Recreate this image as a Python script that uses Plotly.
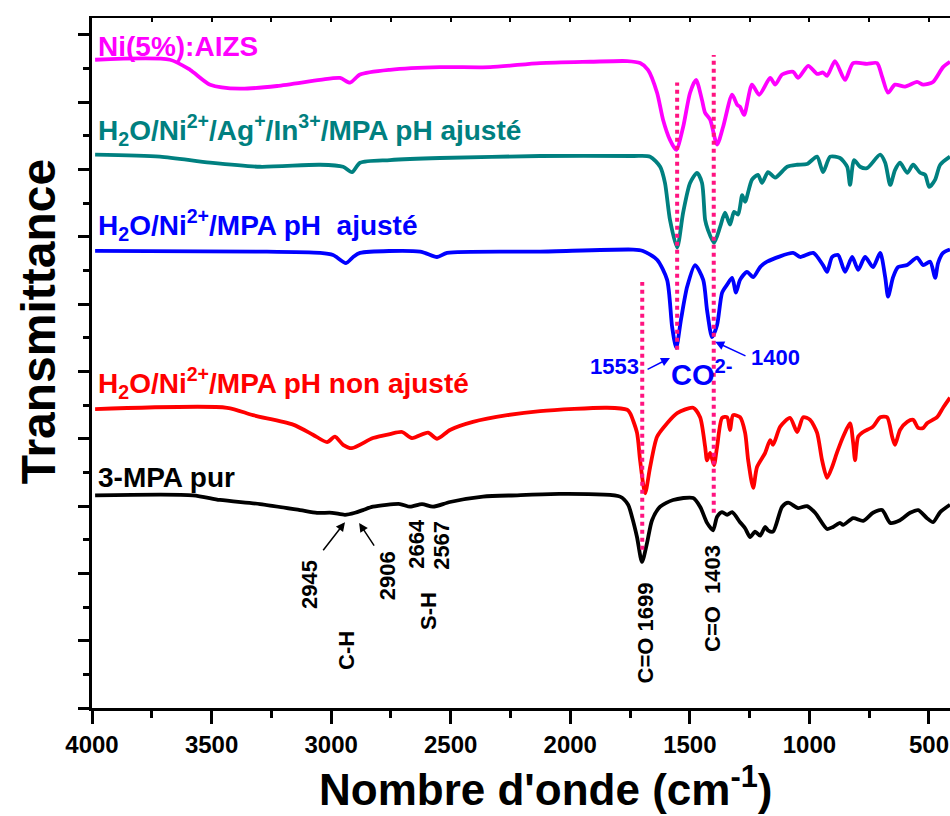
import plotly.graph_objects as go

# wavenumbers (cm-1) and transmittance (a.u., curves offset)
ni_aizs_wn = [3987, 3674, 3590, 3506, 3381, 3226, 3046, 2963, 2921, 2879, 2754, 2545, 2335, 2126,
              1917, 1762, 1708, 1675, 1637, 1612, 1583, 1557, 1528, 1499, 1474, 1449, 1436, 1415,
              1386, 1361, 1323, 1302, 1290, 1273, 1240, 1210, 1164, 1143, 1114, 1068, 1047, 1005,
              968, 943, 926, 893, 851, 817, 759, 717, 696, 671, 642, 600, 550, 524, 483, 441, 412]
ni_aizs_t = [9.63, 9.63, 9.48, 9.26, 9.20, 9.24, 9.33, 9.36, 9.29, 9.41, 9.48, 9.52, 9.52, 9.58,
             9.60, 9.61, 9.58, 9.48, 9.14, 8.74, 8.44, 8.29, 8.63, 9.14, 9.33, 9.03, 8.84, 8.74,
             8.37, 8.63, 9.11, 8.96, 8.93, 8.81, 9.26, 9.11, 9.36, 9.26, 9.41, 9.45, 9.36, 9.54,
             9.42, 9.44, 9.39, 9.61, 9.33, 9.58, 9.57, 9.58, 9.38, 9.14, 9.26, 9.23, 9.30, 9.26,
             9.30, 9.52, 9.60]

agin_wn = [3987, 3716, 3506, 3297, 3046, 2950, 2913, 2879, 2754, 2545, 2126, 1737, 1666, 1624,
           1604, 1583, 1553, 1528, 1499, 1470, 1449, 1436, 1424, 1399, 1373, 1353, 1332, 1315,
           1298, 1281, 1269, 1240, 1215, 1198, 1173, 1143, 1093, 1051, 1010, 968, 943, 913, 872,
           842, 830, 813, 788, 759, 704, 683, 662, 642, 621, 591, 566, 537, 516, 499, 474, 453, 412]
agin_t = [8.22, 8.19, 8.10, 8.04, 8.07, 8.04, 7.96, 8.10, 8.14, 8.17, 8.20, 8.20, 8.19, 8.04,
          7.80, 7.25, 6.84, 7.36, 7.80, 7.95, 7.80, 7.25, 7.10, 6.91, 7.15, 7.36, 7.18, 7.37,
          7.33, 7.62, 7.52, 7.85, 7.92, 7.80, 7.96, 7.88, 8.04, 8.07, 8.08, 8.19, 7.96, 8.19, 8.17,
          8.04, 7.77, 8.14, 8.04, 8.02, 8.22, 8.10, 7.77, 7.99, 8.10, 7.95, 8.07, 7.95, 7.92, 7.74,
          7.85, 8.07, 8.19]

ph_adj_wn = [3987, 3297, 3046, 2992, 2938, 2908, 2879, 2628, 2557, 2515, 2126, 1737, 1696, 1637,
             1595, 1574, 1557, 1537, 1511, 1478, 1444, 1428, 1407, 1386, 1365, 1344, 1323, 1307,
             1290, 1261, 1235, 1206, 1177, 1068, 1039, 984, 943, 926, 905, 880, 851, 821, 796, 767,
             734, 704, 683, 671, 650, 629, 591, 550, 524, 495, 474, 462, 441, 412]
ph_adj_t = [6.79, 6.78, 6.76, 6.73, 6.61, 6.70, 6.76, 6.78, 6.70, 6.76, 6.78, 6.81, 6.79, 6.66,
            6.36, 5.66, 5.35, 5.77, 6.26, 6.58, 6.36, 5.91, 5.51, 5.69, 6.17, 6.29, 6.39, 6.17,
            6.36, 6.48, 6.40, 6.55, 6.63, 6.76, 6.70, 6.76, 6.58, 6.48, 6.70, 6.73, 6.48, 6.70, 6.51,
            6.70, 6.55, 6.76, 6.40, 6.11, 6.40, 6.55, 6.58, 6.69, 6.58, 6.63, 6.39, 6.61, 6.76, 6.81]

ph_nonadj_wn = [3987, 3435, 3327, 3159, 3076, 3017, 2984, 2950, 2913, 2825, 2754, 2703, 2662, 2595,
                2557, 2503, 2407, 2264, 2126, 1846, 1762, 1750, 1721, 1708, 1687, 1666, 1637, 1595,
                1553, 1486, 1457, 1436, 1428, 1415, 1399, 1386, 1365, 1344, 1332, 1319, 1290, 1269,
                1256, 1235, 1219, 1185, 1164, 1152, 1122, 1081, 1051, 1026, 997, 968, 947, 926, 905,
                884, 859, 830, 817, 809, 796, 775, 734, 704, 675, 654, 642, 621, 591, 566, 545, 524,
                508, 466, 441, 412]
ph_nonadj_t = [4.44, 4.46, 4.35, 4.21, 4.06, 3.95, 4.03, 3.91, 3.86, 4.01, 4.07, 4.10, 4.01, 4.09,
               4.00, 4.13, 4.25, 4.35, 4.41, 4.46, 4.43, 4.38, 4.09, 3.68, 3.19, 3.58, 4.03, 4.23,
               4.38, 4.46, 4.32, 3.88, 3.68, 3.79, 3.61, 3.88, 4.31, 4.32, 4.13, 4.35, 4.32, 4.09,
               3.68, 3.27, 3.58, 3.79, 3.98, 3.91, 4.18, 4.31, 4.10, 4.32, 4.28, 4.09, 3.68, 3.42, 3.58,
               3.80, 4.03, 4.23, 3.94, 3.68, 4.03, 4.10, 4.18, 4.32, 4.32, 4.03, 3.91, 4.13, 4.25, 4.28,
               4.16, 4.16, 4.23, 4.32, 4.46, 4.61]

mpa_wn = [3987, 3578, 3465, 3297, 3130, 3059, 2996, 2942, 2900, 2867, 2825, 2712, 2670, 2620, 2574,
          2503, 2365, 2222, 2043, 1792, 1758, 1742, 1721, 1700, 1679, 1658, 1624, 1570, 1486, 1457,
          1428, 1403, 1386, 1365, 1344, 1323, 1290, 1269, 1248, 1227, 1206, 1185, 1173, 1152, 1114,
          1089, 1047, 1010, 976, 926, 901, 872, 859, 817, 775, 734, 696, 662, 621, 579, 545, 508,
          483, 453, 412]
mpa_t = [3.16, 3.16, 3.09, 3.03, 2.94, 2.90, 2.90, 2.87, 2.90, 2.94, 2.99, 3.03, 2.99, 3.03, 2.99,
         3.06, 3.14, 3.16, 3.18, 3.14, 3.02, 2.84, 2.54, 2.17, 2.45, 2.79, 2.99, 3.09, 3.12, 2.99,
         2.75, 2.64, 2.84, 2.91, 2.87, 2.91, 2.76, 2.67, 2.54, 2.62, 2.56, 2.69, 2.64, 2.62, 2.99,
         3.05, 2.97, 3.00, 2.90, 2.66, 2.69, 2.75, 2.72, 2.82, 2.78, 2.90, 2.94, 2.75, 2.79, 2.90,
         2.94, 2.82, 2.76, 2.91, 3.02]

# dotted guide lines: wavenumber, bottom, top
guide_wn = [1553, 1400, 1699]
guide_lo = [5.32, 2.90, 2.35]
guide_hi = [9.29, 9.70, 6.33]

series = [
    (ni_aizs_wn, ni_aizs_t, "#FF00FF"),
    (agin_wn, agin_t, "#008080"),
    (ph_adj_wn, ph_adj_t, "#0000FF"),
    (ph_nonadj_wn, ph_nonadj_t, "#FF0000"),
    (mpa_wn, mpa_t, "#000000"),
]

fig = go.Figure()

for wn, t, col in series:
    fig.add_trace(go.Scatter(x=wn, y=t, mode="lines",
                             line=dict(color=col, width=3.8, shape="spline", smoothing=0.7),
                             showlegend=False))

# guides go on the top axis so that it gets drawn (ticks pointing inward)
for wn, lo, hi in zip(guide_wn, guide_lo, guide_hi):
    fig.add_trace(go.Scatter(x=[wn, wn], y=[lo, hi], mode="lines", xaxis="x2",
                             line=dict(color="#FF1480", width=4, dash="dot"),
                             showlegend=False, hoverinfo="skip"))

bold = dict(family="Liberation Sans, Arial, sans-serif", weight="bold")

# curve labels
labels = [
    ("Ni(5%):AIZS", 9.82, "#FF00FF"),
    ("H<sub>2</sub>O/Ni<sup>2+</sup>/Ag<sup>+</sup>/In<sup>3+</sup>/MPA pH ajusté", 8.59, "#008080"),
    ("H<sub>2</sub>O/Ni<sup>2+</sup>/MPA pH  ajusté", 7.18, "#0000FF"),
    ("H<sub>2</sub>O/Ni<sup>2+</sup>/MPA pH non ajusté", 4.83, "#FF0000"),
    ("3-MPA pur", 3.42, "#000000"),
]
for txt, yv, col in labels:
    fig.add_annotation(x=3983, y=yv, text=txt, showarrow=False, xanchor="left", yanchor="middle",
                       font=dict(size=28, color=col, **bold))

# rotated peak labels
peaks = [
    ("2945", 3088, 1.83), ("2906", 2766, 1.96), ("C-H", 2933, 0.85),
    ("2664", 2641, 2.44), ("2567", 2536, 2.41), ("S-H", 2595, 1.44),
    ("C=O 1699", 1687, 1.11), ("C=O  1403", 1403, 1.62),
]
for txt, xv, yv in peaks:
    fig.add_annotation(x=xv, y=yv, text=txt, showarrow=False, textangle=-90,
                       xanchor="center", yanchor="middle",
                       font=dict(size=22, color="black", **bold))

# arrows (tail -> head)
arrows = [
    (3038, 2.32, 2942, 2.76, "black"),
    (2816, 2.39, 2883, 2.75, "black"),
    (1683, 5.02, 1583, 5.20, "#0000FF"),
    (1261, 5.22, 1394, 5.44, "#0000FF"),
]
for tx, ty, hx, hy, col in arrows:
    fig.add_annotation(x=hx, y=hy, ax=tx, ay=ty, xref="x", yref="y", axref="x", ayref="y",
                       text="", showarrow=True, arrowhead=2, arrowsize=1.2, arrowwidth=1.5,
                       arrowcolor=col)

fig.add_annotation(x=1813, y=5.07, text="1553", showarrow=False,
                   font=dict(size=22, color="#0000FF", **bold))
fig.add_annotation(x=1143, y=5.20, text="1400", showarrow=False,
                   font=dict(size=22, color="#0000FF", **bold))
fig.add_annotation(x=1450, y=4.97, text="CO<sup>2-</sup>", showarrow=False,
                   font=dict(size=29, color="#0000FF", **bold))

# axis titles
fig.add_annotation(xref="paper", yref="paper", x=0, xshift=-54, y=0.559, text="Transmittance",
                   textangle=-90, showarrow=False, xanchor="center", yanchor="middle",
                   font=dict(size=48, color="black", **bold))
fig.add_annotation(xref="paper", yref="paper", x=0.529, y=-0.114, text="Nombre d'onde (cm<sup>-1</sup>)",
                   showarrow=False, xanchor="center", yanchor="middle",
                   font=dict(size=44, color="black", **bold))

fig.update_layout(
    width=950, height=816,
    margin=dict(l=92, r=0, t=18, b=108),
    plot_bgcolor="white", paper_bgcolor="white",
    xaxis=dict(range=[4000, 412], tickvals=[4000, 3500, 3000, 2500, 2000, 1500, 1000, 500],
               ticks="outside", ticklen=13, tickwidth=2.5, tickcolor="black",
               minor=dict(dtick=250, tick0=0, ticks="outside", ticklen=7, tickwidth=2.5, tickcolor="black"),
               showline=True, linewidth=3, linecolor="black", showgrid=False, zeroline=False,
               tickfont=dict(size=24, color="black", **bold)),
    xaxis2=dict(range=[4000, 412], overlaying="x", side="top", anchor="y",
                tickvals=list(range(4000, 400, -250)), ticks="inside", ticklen=4, tickwidth=1.5,
                tickcolor="black", showticklabels=False, showline=True, linewidth=2,
                linecolor="black", showgrid=False, zeroline=False),
    yaxis=dict(range=[0, 10.25], dtick=1, tick0=0, ticks="outside", ticklen=11, tickwidth=2.5,
               tickcolor="black",
               minor=dict(dtick=0.5, tick0=0, ticks="outside", ticklen=6, tickwidth=2.5, tickcolor="black"),
               showticklabels=False, showline=True, linewidth=3, linecolor="black",
               showgrid=False, zeroline=False),
)

# the page's default body margin would shift the figure by 8 px
fig.write_html("out.html", config={"displayModeBar": False},
               post_script="document.body.style.margin='0';")
